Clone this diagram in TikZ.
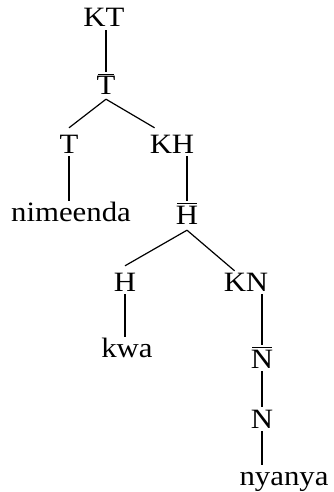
\documentclass[tikz,border=0pt]{standalone}
\usepackage{fontspec}
\setmainfont{Liberation Serif}[FakeStretch=1.1]
\begin{document}
\begin{tikzpicture}[x=1pt,y=-1pt,
  lbl/.style={inner sep=0pt, text height=17pt, text depth=0pt, anchor=base, font=\fontsize{28}{32}\selectfont},
  conn/.style={line width=1.2pt},
  edge/.style={conn, shorten <=3pt, shorten >=3pt},
  baredge/.style={conn, shorten <=3pt, shorten >=6pt},
  bar/.style={line width=1.2pt}]
\useasboundingbox (0,0) rectangle (333,492);
% nodes
\node[lbl] (KT) at (104,27) {KT};
\node[lbl] (Tbar) at (106,95) {T};
\node[lbl] (T) at (69,153) {T};
\node[lbl] (KH) at (172,153) {KH};
\node[lbl] (nimeenda) at (71,221) {nimeenda};
\node[lbl] (Hbar) at (187,224) {H};
\node[lbl] (H) at (125,291) {H};
\node[lbl] (KN) at (246,291) {KN};
\node[lbl] (kwa) at (127,357) {kwa};
\node[lbl] (Nbar) at (262,368) {N};
\node[lbl] (N) at (262,428) {N};
\node[lbl] (nyanya) at (284,485) {nyanya};
% bars
\draw[bar] ([xshift=1.5pt,yshift=3pt]Tbar.north west) -- ([xshift=-1.5pt,yshift=3pt]Tbar.north east);
\draw[bar] ([xshift=1.5pt,yshift=3pt]Hbar.north west) -- ([xshift=-1.5pt,yshift=3pt]Hbar.north east);
\draw[bar] ([xshift=1.5pt,yshift=3pt]Nbar.north west) -- ([xshift=-1.5pt,yshift=3pt]Nbar.north east);
% apex points
\coordinate (Tapex) at ([yshift=-4pt]Tbar.south);
\coordinate (Hapex) at ([yshift=-6pt]Hbar.south);
% edges
\draw[baredge] (KT.south -| Tbar.north) -- (Tbar.north);
\draw[conn] (Tapex) -- ([yshift=8pt]T.north);
\draw[conn] (Tapex) -- ([xshift=5pt,yshift=8pt]KH.north west);
\draw[edge] (T.south) -- (T.south |- nimeenda.north);
\draw[baredge] (KH.south -| Hbar.north) -- (Hbar.north);
\draw[conn] (Hapex) -- ([yshift=8pt]H.north);
\draw[conn] (Hapex) -- ([xshift=11pt,yshift=3pt]KN.north west);
\draw[edge] (H.south) -- (H.south |- kwa.north);
\draw[baredge] (KN.south -| Nbar.north) -- (Nbar.north);
\draw[edge, shorten >=4pt] (Nbar.south) -- (N.north);
\draw[edge] (N.south) -- (N.south |- nyanya.north);
\end{tikzpicture}
\end{document}
